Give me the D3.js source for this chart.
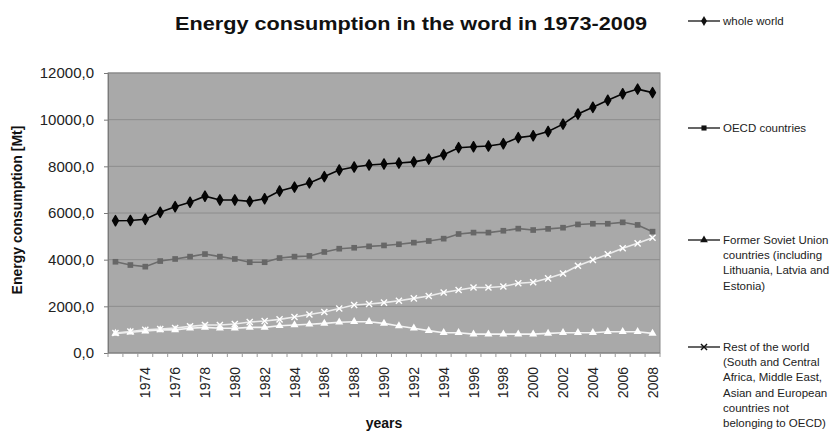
<!DOCTYPE html>
<html>
<head>
<meta charset="utf-8">
<script src="https://cdn.jsdelivr.net/npm/d3@7/dist/d3.min.js"></script>
<style>
  body { margin: 0; background: #fff; }
  text { font-family: "Liberation Sans", Arial, sans-serif; }
</style>
</head>
<body>
<svg id="chart" width="837" height="431"></svg>
<script>
// Category axis: one point per year
const years = [1972, 1973, 1974, 1975, 1976, 1977, 1978, 1979, 1980, 1981, 1982, 1983,
  1984, 1985, 1986, 1987, 1988, 1989, 1990, 1991, 1992, 1993, 1994, 1995, 1996, 1997,
  1998, 1999, 2000, 2001, 2002, 2003, 2004, 2005, 2006, 2007, 2008];

// Energy consumption, Mt
const wholeWorld = [5670, 5680, 5730, 6030, 6270, 6460, 6720, 6560, 6560, 6500, 6610, 6940,
  7110, 7290, 7560, 7840, 7970, 8060, 8100, 8140, 8190, 8310, 8500, 8800, 8840, 8870,
  8970, 9230, 9310, 9490, 9810, 10240, 10530, 10830, 11110, 11310, 11160];
const oecd = [3910, 3770, 3700, 3940, 4030, 4130, 4240, 4130, 4030, 3890, 3890, 4070,
  4130, 4160, 4330, 4470, 4510, 4570, 4610, 4660, 4730, 4800, 4900, 5100, 5160, 5160,
  5240, 5330, 5270, 5320, 5370, 5510, 5540, 5540, 5600, 5490, 5200];
const formerSoviet = [840, 890, 940, 990, 990, 1060, 1100, 1060, 1060, 1100, 1100, 1170,
  1200, 1230, 1270, 1320, 1340, 1340, 1270, 1160, 1060, 960, 870, 870, 810, 810,
  810, 810, 810, 840, 870, 870, 870, 910, 910, 910, 840];
const restOfWorld = [860, 920, 990, 1030, 1070, 1140, 1200, 1200, 1240, 1330, 1370, 1440,
  1540, 1650, 1760, 1910, 2060, 2100, 2160, 2240, 2340, 2440, 2590, 2700, 2810, 2810,
  2850, 2990, 3030, 3200, 3410, 3740, 3990, 4230, 4490, 4700, 4940];

const yTicks = [0, 2000, 4000, 6000, 8000, 10000, 12000];
const tickYears = [1974, 1976, 1978, 1980, 1982, 1984, 1986, 1988, 1990, 1992, 1994,
  1996, 1998, 2000, 2002, 2004, 2006, 2008];

const seriesNames = ["whole world", "OECD countries",
  ["Former Soviet Union", "countries (including", "Lithuania, Latvia and", "Estonia)"],
  ["Rest of the world", "(South and Central", "Africa, Middle East,", "Asian and European", "countries not", "belonging to OECD)"]];

const svg = d3.select("#chart");
const plot = { left: 108, right: 660, top: 73, bottom: 353 };

const x = d3.scalePoint().domain(years).range([plot.left, plot.right]).padding(0.5);
const y = d3.scaleLinear().domain([0, 12000]).range([plot.bottom, plot.top]);

// Plot area
svg.append("rect")
  .attr("x", plot.left).attr("y", plot.top)
  .attr("width", plot.right - plot.left).attr("height", plot.bottom - plot.top)
  .attr("fill", "#a9a9a9").attr("stroke", "#8a8a8a");

// Horizontal gridlines
svg.append("g").selectAll("line").data(yTicks.filter(d => d > 0)).join("line")
  .attr("x1", plot.left).attr("x2", plot.right)
  .attr("y1", d => y(d)).attr("y2", d => y(d))
  .attr("stroke", "#8c8c8c").attr("stroke-width", 1);

// Y axis
const yAxis = svg.append("g").attr("transform", `translate(${plot.left},0)`)
  .call(d3.axisLeft(y).tickValues(yTicks).tickSize(4).tickPadding(10)
    .tickFormat(d => d3.format(".1f")(d).replace(".", ",")));
yAxis.select(".domain").attr("stroke", "#7a7a7a");
yAxis.selectAll(".tick line").attr("stroke", "#7a7a7a");
yAxis.selectAll(".tick text").attr("font-size", 15).attr("fill", "#222")
  .style("font-family", "'Liberation Sans', Arial, sans-serif");

// X axis: line, ticks at category boundaries, rotated year labels
const step = x.step();
const xg = svg.append("g");
xg.append("line").attr("x1", plot.left).attr("x2", plot.right)
  .attr("y1", plot.bottom).attr("y2", plot.bottom).attr("stroke", "#7a7a7a");
xg.selectAll("line.tk").data(years.concat([null])).join("line").attr("class", "tk")
  .attr("x1", (d, i) => plot.left + (x.padding() - 0.5) * step + i * step)
  .attr("x2", (d, i) => plot.left + (x.padding() - 0.5) * step + i * step)
  .attr("y1", plot.bottom).attr("y2", plot.bottom + 4)
  .attr("stroke", "#9a9a9a");
xg.selectAll("text").data(tickYears).join("text")
  .attr("transform", d => `translate(${x(d)},${plot.bottom + 14}) rotate(-90)`)
  .attr("dy", "0.36em")
  .attr("text-anchor", "end")
  .attr("font-size", 14).attr("fill", "#222")
  .text(d => d);

// Series lines and markers
const line = d3.line().x((d, i) => x(years[i])).y(d => y(d));

const diamond = d3.symbol().type(d3.symbolDiamond).size(30);
const square = d3.symbol().type(d3.symbolSquare).size(32);
const triangle = d3.symbol().type(d3.symbolTriangle).size(28);
const cross = d3.symbol().type(d3.symbolX).size(26);

const series = [
  { values: wholeWorld, stroke: "#050505", fill: "#050505", sym: diamond, markStroke: "#050505" },
  { values: oecd, stroke: "#6c6c6c", fill: "#676767", sym: square },
  { values: formerSoviet, stroke: "#f4f4f4", fill: "#ffffff", sym: triangle },
  { values: restOfWorld, stroke: "#ececec", fill: "none", sym: cross, markStroke: "#ffffff" }
];

series.forEach(s => {
  const g = svg.append("g");
  g.append("path").datum(s.values)
    .attr("d", line).attr("fill", "none")
    .attr("stroke", s.stroke).attr("stroke-width", 1.6);
  g.selectAll("path.m").data(s.values).join("path").attr("class", "m")
    .attr("transform", (d, i) => `translate(${x(years[i])},${y(d)})`)
    .attr("d", s.sym)
    .attr("fill", s.fill)
    .attr("stroke", s.markStroke || "none")
    .attr("stroke-width", 1.4)
    .attr("stroke-linejoin", "round");
});

// Title
svg.append("text")
  .attr("x", 411).attr("y", 30).attr("text-anchor", "middle")
  .attr("font-size", 19).attr("font-weight", "bold").attr("fill", "#111")
  .attr("textLength", 472).attr("lengthAdjust", "spacingAndGlyphs")
  .text("Energy consumption in the word in 1973-2009");

// Axis titles
svg.append("text")
  .attr("transform", "translate(22,210) rotate(-90)")
  .attr("text-anchor", "middle")
  .attr("font-size", 14).attr("font-weight", "bold").attr("fill", "#111")
  .text("Energy consumption [Mt]");
svg.append("text")
  .attr("x", 384).attr("y", 428).attr("text-anchor", "middle")
  .attr("font-size", 14).attr("font-weight", "bold").attr("fill", "#111")
  .text("years");

// Legend
const legendY = [21, 128, 240, 347];
const legendSyms = [
  d3.symbol().type(d3.symbolDiamond).size(30),
  d3.symbol().type(d3.symbolSquare).size(26),
  d3.symbol().type(d3.symbolTriangle).size(26),
  d3.symbol().type(d3.symbolX).size(26)
];
const legend = svg.append("g");
seriesNames.forEach((name, i) => {
  const g = legend.append("g").attr("transform", `translate(0,${legendY[i]})`);
  g.append("line").attr("x1", 688).attr("x2", 720).attr("y1", 0).attr("y2", 0)
    .attr("stroke", "#111").attr("stroke-width", 1.3);
  g.append("path").attr("transform", "translate(704,0)").attr("d", legendSyms[i])
    .attr("fill", i === 3 ? "none" : "#111").attr("stroke", i === 3 ? "#111" : "none")
    .attr("stroke-width", 1.4);
  const lines = Array.isArray(name) ? name : [name];
  const t = g.append("text").attr("x", 723).attr("y", 0)
    .attr("font-size", 11.5).attr("fill", "#222");
  lines.forEach((ln, j) => {
    t.append("tspan").attr("x", 723).attr("y", 4 + j * 15.2).text(ln);
  });
});
</script>
</body>
</html>
